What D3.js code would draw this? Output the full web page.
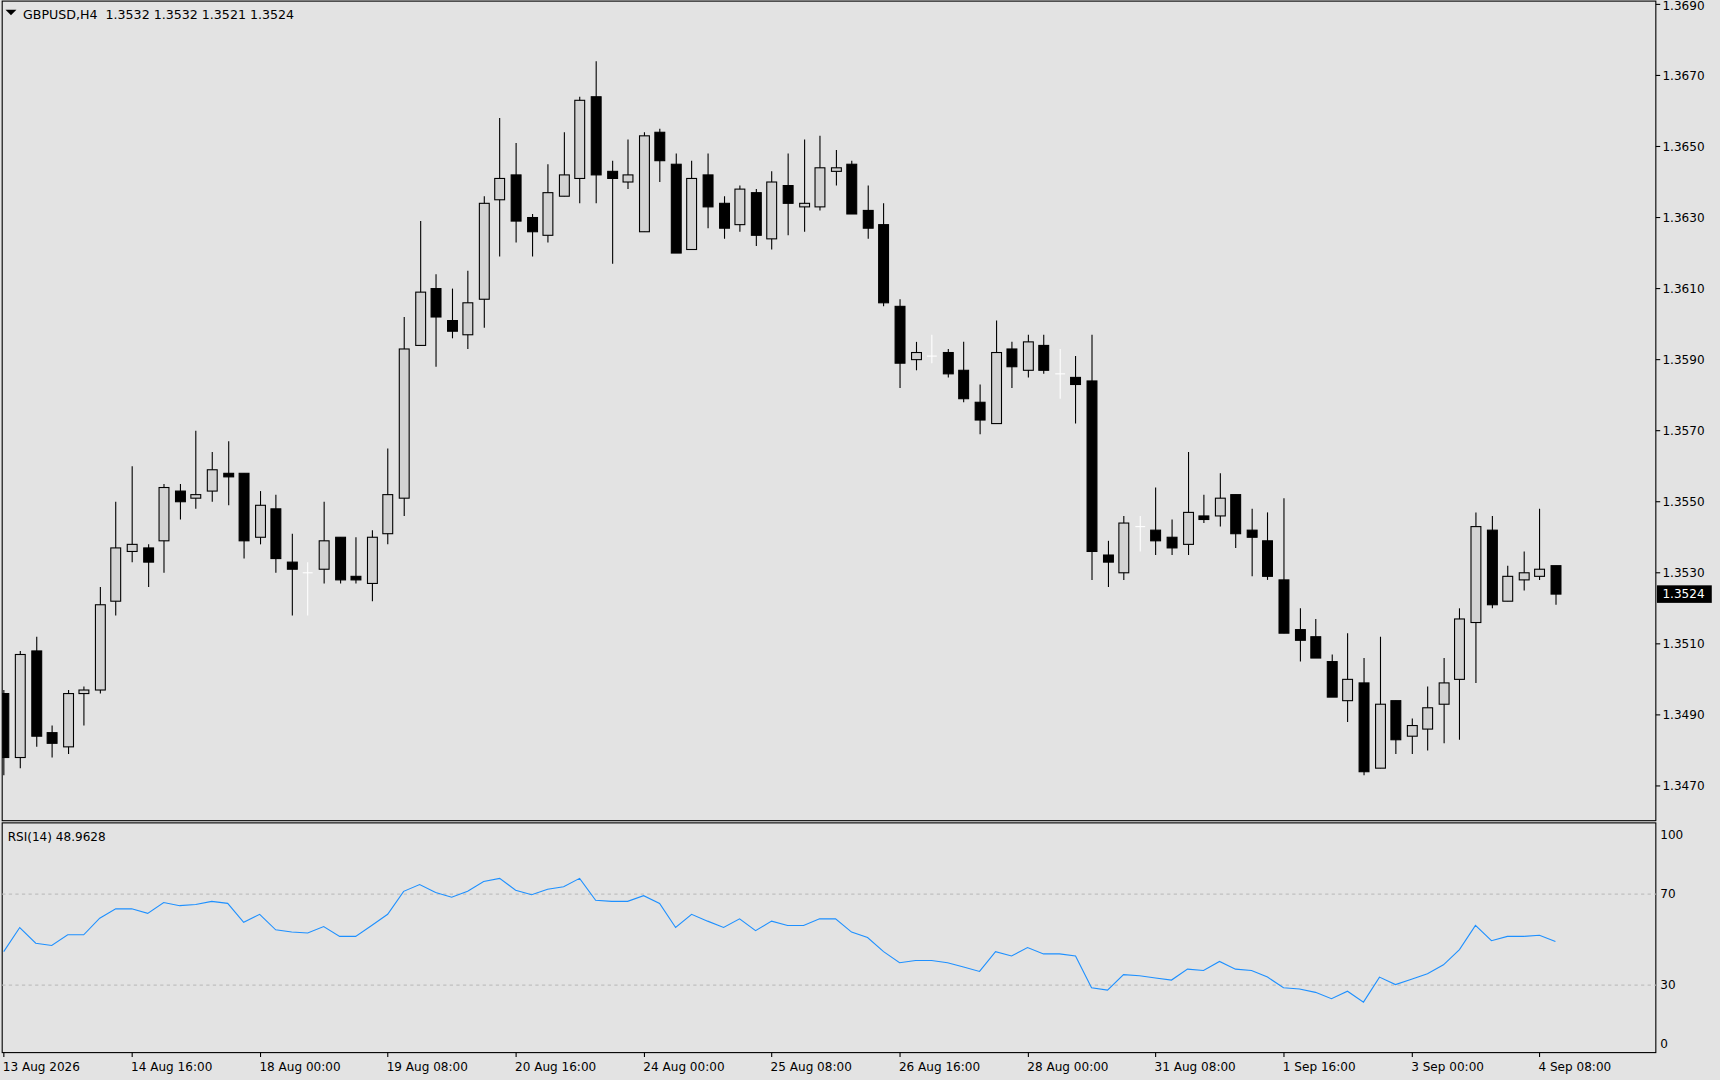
<!DOCTYPE html>
<html><head><meta charset="utf-8">
<script src="https://cdn.jsdelivr.net/npm/d3@7"></script>
<style>html,body{margin:0;padding:0;background:#e3e3e3;overflow:hidden} text{white-space:pre}</style>
</head><body>
<svg id="c" width="1720" height="1080" viewBox="0 0 1568 985" preserveAspectRatio="none"></svg>
<script>
const symbolTitle = "GBPUSD,H4  1.3532 1.3532 1.3521 1.3524";
const rsiTitle = "RSI(14) 48.9628";
const opens  = [1.3496,1.3478,1.3508,1.3485,1.3481,1.3496,1.3497,1.3522,1.3536,1.3537,1.3539,1.3553,1.3551,1.3553,1.3558,1.3558,1.3540,1.3548,1.3533,1.3530,1.3531,1.3540,1.3529,1.3527,1.3541,1.3551,1.3594,1.3610,1.3601,1.3597,1.3607,1.3635,1.3642,1.3630,1.3625,1.3636,1.3641,1.3664,1.3643,1.3640,1.3626,1.3654,1.3645,1.3621,1.3642,1.3634,1.3628,1.3637,1.3624,1.3639,1.3633,1.3633,1.3643,1.3645,1.3632,1.3628,1.3605,1.3590,1.3591,1.3592,1.3587,1.3578,1.3572,1.3593,1.3587,1.3594,1.3586,1.3585,1.3584,1.3535,1.3530,1.3543,1.3542,1.3540,1.3538,1.3546,1.3546,1.3552,1.3542,1.3539,1.3528,1.3514,1.3512,1.3505,1.3494,1.3499,1.3475,1.3494,1.3484,1.3486,1.3493,1.3500,1.3516,1.3542,1.3522,1.3528,1.3529,1.3532];
const highs  = [1.3497,1.3508,1.3512,1.3487,1.3497,1.3498,1.3526,1.3550,1.3560,1.3538,1.3555,1.3555,1.3570,1.3564,1.3567,1.3558,1.3553,1.3552,1.3541,1.3533,1.3550,1.3540,1.3540,1.3542,1.3565,1.3602,1.3629,1.3614,1.3610,1.3615,1.3636,1.3658,1.3651,1.3631,1.3645,1.3654,1.3664,1.3674,1.3646,1.3652,1.3654,1.3655,1.3648,1.3646,1.3648,1.3636,1.3639,1.3638,1.3643,1.3648,1.3652,1.3653,1.3649,1.3646,1.3639,1.3634,1.3607,1.3595,1.3597,1.3593,1.3595,1.3583,1.3601,1.3595,1.3597,1.3597,1.3593,1.3591,1.3597,1.3539,1.3546,1.3546,1.3554,1.3545,1.3564,1.3552,1.3558,1.3552,1.3548,1.3547,1.3551,1.3520,1.3517,1.3507,1.3513,1.3506,1.3512,1.3494,1.3489,1.3498,1.3506,1.3520,1.3547,1.3546,1.3532,1.3536,1.3548,1.3532];
const lows   = [1.3473,1.3475,1.3481,1.3478,1.3479,1.3487,1.3496,1.3518,1.3533,1.3526,1.3530,1.3545,1.3548,1.3550,1.3549,1.3534,1.3538,1.3530,1.3518,1.3518,1.3527,1.3527,1.3527,1.3522,1.3538,1.3546,1.3594,1.3588,1.3596,1.3593,1.3599,1.3619,1.3623,1.3619,1.3623,1.3636,1.3634,1.3634,1.3617,1.3638,1.3626,1.3640,1.3620,1.3621,1.3627,1.3624,1.3626,1.3622,1.3621,1.3625,1.3626,1.3632,1.3639,1.3631,1.3624,1.3605,1.3582,1.3587,1.3589,1.3585,1.3578,1.3569,1.3572,1.3582,1.3585,1.3586,1.3579,1.3572,1.3528,1.3526,1.3528,1.3536,1.3535,1.3535,1.3535,1.3544,1.3543,1.3537,1.3529,1.3528,1.3513,1.3505,1.3506,1.3495,1.3488,1.3473,1.3475,1.3479,1.3479,1.3480,1.3482,1.3483,1.3499,1.3520,1.3522,1.3525,1.3528,1.3521];
const closes = [1.3478,1.3507,1.3484,1.3482,1.3496,1.3497,1.3521,1.3537,1.3538,1.3533,1.3554,1.3550,1.3552,1.3559,1.3557,1.3539,1.3549,1.3534,1.3531,1.3530,1.3539,1.3528,1.3528,1.3540,1.3552,1.3593,1.3609,1.3602,1.3598,1.3606,1.3634,1.3641,1.3629,1.3626,1.3637,1.3642,1.3663,1.3642,1.3641,1.3642,1.3653,1.3646,1.3620,1.3641,1.3633,1.3627,1.3638,1.3625,1.3640,1.3634,1.3634,1.3644,1.3644,1.3631,1.3627,1.3606,1.3589,1.3592,1.3591,1.3586,1.3579,1.3573,1.3592,1.3588,1.3595,1.3587,1.3586,1.3583,1.3536,1.3533,1.3544,1.3543,1.3539,1.3537,1.3547,1.3545,1.3551,1.3541,1.3540,1.3529,1.3513,1.3511,1.3506,1.3495,1.3500,1.3474,1.3493,1.3483,1.3487,1.3492,1.3499,1.3517,1.3543,1.3521,1.3529,1.3530,1.3531,1.3524];
const rsiValues = [44.5,55.1,48.2,47.2,51.9,51.9,59.2,63.3,63.3,61.3,66.1,64.7,65.2,66.6,65.7,57.4,60.9,54.1,53.1,52.7,55.5,51.2,51.2,56.0,60.9,71.0,74.0,70.5,68.4,71.0,75.3,76.7,71.5,69.5,71.9,73.0,76.7,67.1,66.6,66.6,69.1,65.7,55.1,60.9,57.9,55.1,58.9,53.7,57.9,56.0,56.0,58.9,58.9,53.1,50.7,44.5,39.6,40.6,40.6,39.6,37.7,35.8,44.5,42.6,46.3,43.5,43.5,42.6,28.6,27.6,34.4,33.9,32.9,32.0,36.8,36.2,40.2,36.8,36.2,33.3,28.6,28.1,26.6,23.8,27.1,22.3,33.3,30.0,32.4,34.8,38.7,45.4,56.0,49.3,51.2,51.2,51.7,48.96];
const priceTicks = [1.3470,1.3490,1.3510,1.3530,1.3550,1.3570,1.3590,1.3610,1.3630,1.3650,1.3670,1.3690];
const rsiTicks = [0,30,70,100];
const rsiLevels = [30,70];
const timeLabels = ["13 Aug 2026","14 Aug 16:00","18 Aug 00:00","19 Aug 08:00","20 Aug 16:00","24 Aug 00:00","25 Aug 08:00","26 Aug 16:00","28 Aug 00:00","31 Aug 08:00","1 Sep 16:00","3 Sep 00:00","4 Sep 08:00"];
const timeLabelBars = [0,8,16,24,32,40,48,56,64,72,80,88,96];
const lastPrice = 1.3524;

const bars = opens.map((o,i)=>({i,o,h:highs[i],l:lows[i],c:closes[i]}));
const svg = d3.select("#c");
const F = "DejaVu Sans, Tahoma, sans-serif";
const L = 2, R = 1509.5, T = 1, MB = 748.5, RT = 750.5, RB = 960;
const x = d3.scaleLinear().domain([0, 96]).range([3.4, 1403.4]);
const y = d3.scaleLinear().domain([1.3470, 1.3690]).range([716.8, 4]);
const yr = d3.scaleLinear().domain([0, 100]).range([960.25, 752.75]);

svg.append("rect").attr("width",1568).attr("height",985).attr("fill","#e3e3e3");
svg.append("defs").append("clipPath").attr("id","cm").append("rect").attr("x",L).attr("y",T).attr("width",R-L).attr("height",MB-T);

svg.append("rect").attr("x",L).attr("y",T).attr("width",R-L).attr("height",MB-T).attr("fill","none").attr("stroke","#000");
svg.append("rect").attr("x",L).attr("y",RT).attr("width",R-L).attr("height",RB-RT).attr("fill","none").attr("stroke","#000");

const pa = svg.append("g").attr("font-family",F).attr("font-size",11);
priceTicks.forEach(p=>{
  pa.append("line").attr("x1",R).attr("x2",R+4).attr("y1",y(p)).attr("y2",y(p)).attr("stroke","#000");
  pa.append("text").attr("x",R+6).attr("y",Math.max(9, y(p)+4)).text(d3.format(".4f")(p));
});
rsiTicks.forEach(v=>{
  pa.append("text").attr("x",R+4).attr("y",Math.min(956, Math.max(765, yr(v)+4))).text(v);
});
rsiLevels.forEach(v=>{
  svg.append("line").attr("x1",L).attr("x2",R).attr("y1",Math.round(yr(v))+0.5).attr("y2",Math.round(yr(v))+0.5)
    .attr("stroke","#c0c0c0").attr("stroke-dasharray","3,3");
});

const g = svg.append("g").attr("clip-path","url(#cm)");
const bw = 9;
bars.forEach(b=>{
  const cx = Math.round(x(b.i))+0.5;
  const doji = Math.abs(b.o-b.c) < 1e-9;
  const col = doji ? "#ffffff" : "#000";
  g.append("line").attr("x1",cx).attr("x2",cx).attr("y1",y(b.h)).attr("y2",y(b.l)).attr("stroke",col).attr("stroke-width",1);
  if (doji) {
    g.append("line").attr("x1",cx-bw/2).attr("x2",cx+bw/2).attr("y1",y(b.o)).attr("y2",y(b.o)).attr("stroke",col);
  } else {
    const top = y(Math.max(b.o,b.c)), bot = y(Math.min(b.o,b.c));
    g.append("rect").attr("x",cx-bw/2).attr("y",top).attr("width",bw).attr("height",Math.max(1,bot-top))
      .attr("fill", b.c>b.o ? "#d3d3d3" : "#000").attr("stroke","#000").attr("stroke-width",1);
  }
});

svg.append("rect").attr("x",R+1).attr("y",y(lastPrice)-8).attr("width",50).attr("height",16).attr("fill","#000");
svg.append("text").attr("x",R+6).attr("y",y(lastPrice)+4).attr("font-family",F).attr("font-size",11).attr("fill","#fff").text(d3.format(".4f")(lastPrice));

svg.append("path").datum(rsiValues).attr("fill","none").attr("stroke","#1e90ff").attr("stroke-width",1)
  .attr("d", d3.line().x((d,i)=>x(i)).y(d=>yr(d)));

svg.append("path").attr("d","M5,9 L15,9 L10,14 Z").attr("fill","#000");
svg.append("text").attr("x",21).attr("y",17).attr("font-family",F).attr("font-size",11.5).text(symbolTitle);
svg.append("text").attr("x",7).attr("y",767).attr("font-family",F).attr("font-size",11).text(rsiTitle);

timeLabels.forEach((t,k)=>{
  const tx = Math.round(x(timeLabelBars[k]))+0.5;
  svg.append("line").attr("x1",tx).attr("x2",tx).attr("y1",RB).attr("y2",RB+4).attr("stroke","#000");
  svg.append("text").attr("x",tx-1).attr("y",977).attr("font-family",F).attr("font-size",11).text(t);
});
</script>
</body></html>
